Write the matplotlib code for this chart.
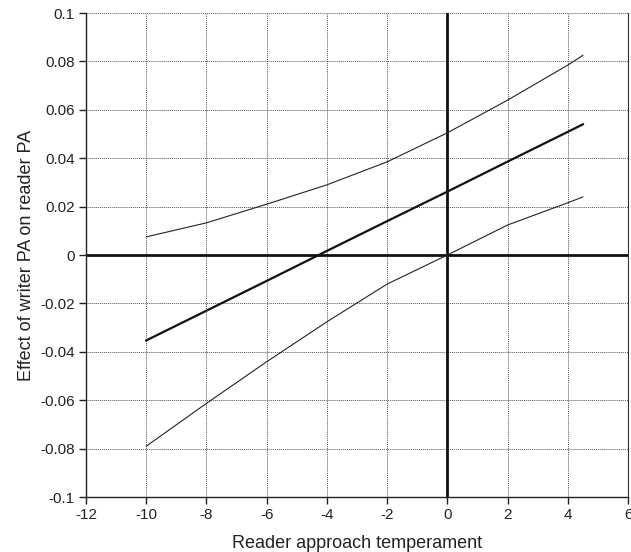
import numpy as np
import matplotlib
matplotlib.use("Agg")
import matplotlib.pyplot as plt
from matplotlib.ticker import FuncFormatter

plt.rcParams['font.family'] = ['Liberation Sans', 'DejaVu Sans']
plt.rcParams['axes.unicode_minus'] = False

# data ------------------------------------------------
x_vals = [-10, -8, -6, -4, -2, 0, 2, 4, 4.5]
mid = [-0.0353, -0.0230, -0.0107, 0.0017, 0.0140, 0.0262, 0.0386, 0.0509, 0.0540]
upper = [0.0075, 0.0133, 0.0210, 0.0290, 0.0385, 0.0505, 0.0640, 0.0785, 0.0825]
lower = [-0.0790, -0.0613, -0.0441, -0.0276, -0.0120, 0.0000, 0.0124, 0.0216, 0.0240]

x_ticks = [-12, -10, -8, -6, -4, -2, 0, 2, 4, 6]
y_ticks = [-0.1, -0.08, -0.06, -0.04, -0.02, 0, 0.02, 0.04, 0.06, 0.08, 0.1]


def main():
    fig = plt.figure(figsize=(6.31, 5.52), dpi=100)
    ax = fig.add_axes([0.1363, 0.0996, 0.859, 0.8768])

    ax.set_xlim(-12, 6)
    ax.set_ylim(-0.1, 0.1)
    ax.set_xticks(x_ticks)
    ax.set_yticks(y_ticks)
    ax.yaxis.set_major_formatter(FuncFormatter(lambda v, p: f"{v:g}" if abs(v) > 1e-9 else "0"))

    # grid -------------------------------------------
    ax.grid(True, color='#555555', linestyle=(0, (1, 1)), linewidth=0.7)
    ax.set_axisbelow(True)
    ax.axhline(0, color='#111111', linewidth=2.0, zorder=2)
    ax.axvline(0, color='#111111', linewidth=2.0, zorder=2)

    # lines ------------------------------------------
    ax.plot(x_vals, upper, color='#222222', linewidth=0.8, zorder=3)
    ax.plot(x_vals, mid, color='#111111', linewidth=1.6, zorder=3)
    ax.plot(x_vals, lower, color='#222222', linewidth=0.8, zorder=3)

    for s in ['left', 'bottom']:
        ax.spines[s].set_color('#222222')
        ax.spines[s].set_linewidth(1.0)
    ax.spines['top'].set_visible(False)
    ax.spines['right'].set_color('#333333')
    ax.spines['right'].set_linewidth(0.8)

    ax.tick_params(direction='out', length=5, width=1.0, labelsize=11,
                   colors='#222222', pad=3)
    ax.set_xlabel('Reader approach temperament', fontsize=13, color='#222222', labelpad=9)
    ax.set_ylabel('Effect of writer PA on reader PA', fontsize=13, color='#222222', labelpad=4)

    fig.savefig('out.png', dpi=100)


if __name__ == "__main__":
    main()
